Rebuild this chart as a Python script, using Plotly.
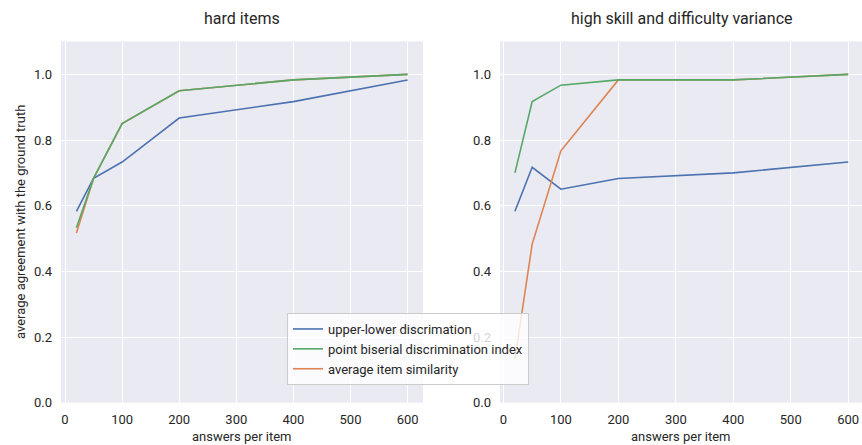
import plotly.graph_objects as go

answers = [20, 50, 100, 200, 400, 600]

# left panel: hard items
hard_upper_lower = [0.583, 0.683, 0.733, 0.867, 0.917, 0.983]
hard_point_biserial = [0.533, 0.683, 0.850, 0.950, 0.983, 1.000]
hard_item_similarity = [0.517, 0.683, 0.850, 0.950, 0.983, 1.000]

# right panel: high skill and difficulty variance
var_upper_lower = [0.583, 0.717, 0.650, 0.683, 0.700, 0.733]
var_point_biserial = [0.700, 0.917, 0.967, 0.983, 0.983, 1.000]
var_item_similarity = [0.133, 0.483, 0.767, 0.983, 0.983, 1.000]

panel_titles = ["hard items", "high skill and difficulty variance"]
series_names = ["upper-lower discrimation", "point biserial discrimination index", "average item similarity"]
x_ticks = [0, 100, 200, 300, 400, 500, 600]
y_ticks = [0.0, 0.2, 0.4, 0.6, 0.8, 1.0]

BLUE, ORANGE, GREEN = "#4C72B0", "#DD8452", "#55A868"
TXT = "#262626"
FONT = "Roboto"

W, H = 862, 445
fig = go.Figure()

panels = [
    ("x", "y", hard_upper_lower, hard_point_biserial, hard_item_similarity),
    ("x2", "y2", var_upper_lower, var_point_biserial, var_item_similarity),
]
for i, (xa, ya, ul, pb, sim) in enumerate(panels):
    show = i == 0
    fig.add_trace(go.Scatter(x=answers, y=ul, mode="lines", name=series_names[0], xaxis=xa, yaxis=ya,
                             line=dict(color=BLUE, width=1.6), showlegend=show, legendrank=1))
    fig.add_trace(go.Scatter(x=answers, y=sim, mode="lines", name=series_names[2], xaxis=xa, yaxis=ya,
                             line=dict(color=ORANGE, width=1.6), showlegend=show, legendrank=3))
    fig.add_trace(go.Scatter(x=answers, y=pb, mode="lines", name=series_names[1], xaxis=xa, yaxis=ya,
                             line=dict(color=GREEN, width=1.6), showlegend=show, legendrank=2))

ydom = [1 - 402.7 / H, 1 - 41.5 / H]
common_x = dict(tickvals=x_ticks, showgrid=True, gridcolor="white", gridwidth=1.2, zeroline=False,
                showline=False, ticks="", tickfont=dict(family=FONT, size=13, color=TXT), ticklabelstandoff=7,
                automargin=False)
common_y = dict(tickvals=y_ticks, tickformat=".1f", range=[0, 1.1], showgrid=True, gridcolor="white",
                gridwidth=1.2, zeroline=False, showline=False, ticks="",
                tickfont=dict(family=FONT, size=13, color=TXT), ticklabelstandoff=8, automargin=False)

fig.update_layout(
    width=W, height=H,
    margin=dict(l=0, r=0, t=0, b=0),
    paper_bgcolor="white", plot_bgcolor="#EAEAF2",
    font=dict(family=FONT, color=TXT),
    xaxis=dict(domain=[61 / W, 423 / W], range=[-7, 627], anchor="y", **common_x),
    yaxis=dict(domain=ydom, anchor="x", **common_y),
    xaxis2=dict(domain=[500 / W, 1.0], range=[-6, 624], anchor="y2", **common_x),
    yaxis2=dict(domain=ydom, anchor="x2", **common_y),
    showlegend=True,
    legend=dict(x=287 / W, y=1 - 313 / H, xanchor="left", yanchor="top",
                bgcolor="rgba(255,255,255,0.8)", bordercolor="#CCCCCC", borderwidth=1,
                font=dict(family=FONT, size=13, color=TXT), itemwidth=30, tracegroupgap=0),
)

annotations = [
    dict(text=panel_titles[0], x=(61 + 423) / 2 / W, y=1 - 18 / H, xref="paper", yref="paper",
         showarrow=False, font=dict(family=FONT, size=16, color=TXT), xanchor="center", yanchor="middle"),
    dict(text=panel_titles[1], x=(500 + 862) / 2 / W, y=1 - 18 / H, xref="paper", yref="paper",
         showarrow=False, font=dict(family=FONT, size=16, color=TXT), xanchor="center", yanchor="middle"),
    dict(text="answers per item", x=(61 + 423) / 2 / W, y=1 - 436 / H, xref="paper", yref="paper",
         showarrow=False, font=dict(family=FONT, size=13, color=TXT), xanchor="center", yanchor="middle"),
    dict(text="answers per item", x=(500 + 862) / 2 / W, y=1 - 436 / H, xref="paper", yref="paper",
         showarrow=False, font=dict(family=FONT, size=13, color=TXT), xanchor="center", yanchor="middle"),
    dict(text="average agreement with the ground truth", x=20 / W, y=1 - 222 / H, xref="paper", yref="paper",
         showarrow=False, textangle=-90, font=dict(family=FONT, size=13, color=TXT),
         xanchor="center", yanchor="middle"),
]
fig.update_layout(annotations=annotations)

fig.write_html("out.html", config={"displayModeBar": False},
               post_script="document.body.style.margin='0';document.body.style.overflow='hidden';")
